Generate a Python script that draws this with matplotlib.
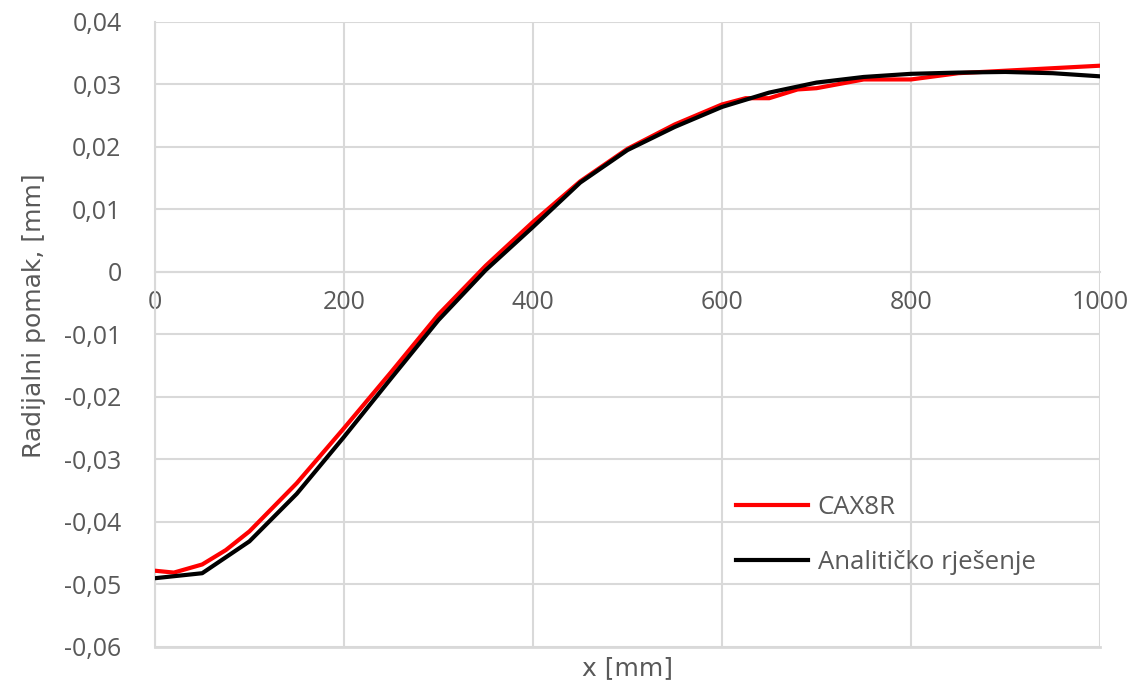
import matplotlib
matplotlib.use("Agg")
import matplotlib.pyplot as plt
from matplotlib.ticker import FuncFormatter, MultipleLocator

# CAX8R (numericko rjesenje)
x_cax = [0, 20, 50, 75, 100, 150, 200, 250, 300, 350, 400, 450, 500, 550,
         600, 625, 650, 680, 700, 750, 800, 850, 900, 950, 1000]
y_cax = [-0.0478, -0.0481, -0.0468, -0.0445, -0.0415, -0.0338, -0.0250,
         -0.0160, -0.0068, 0.0010, 0.0080, 0.0145, 0.0197, 0.0236, 0.0268,
         0.0278, 0.0278, 0.0292, 0.0294, 0.0308, 0.0308, 0.0318, 0.0322,
         0.0326, 0.0330]

# Analiticko rjesenje
x_an = [0, 50, 100, 150, 200, 250, 300, 350, 400, 450, 500, 550, 600, 650,
        700, 750, 800, 850, 900, 950, 1000]
y_an = [-0.0490, -0.0482, -0.0431, -0.0355, -0.0264, -0.0170, -0.0077,
        0.0003, 0.0072, 0.0143, 0.0195, 0.0232, 0.0264, 0.0287, 0.0303,
        0.0312, 0.0317, 0.0319, 0.0320, 0.0318, 0.0313]

grid_col = "#d9d9d9"
txt_col = "#595959"

fig = plt.figure(figsize=(11.36, 6.86), dpi=100)
ax = fig.add_axes([0.1364, 0.0569, 0.8319, 0.9111])

ax.plot(x_cax, y_cax, color="#ff0000", lw=3, label="CAX8R", zorder=3)
ax.plot(x_an, y_an, color="black", lw=3, label="Analitičko rješenje", zorder=3)

ax.set_xlim(0, 1000)
ax.set_ylim(-0.06, 0.04)
ax.xaxis.set_major_locator(MultipleLocator(200))
ax.yaxis.set_major_locator(MultipleLocator(0.01))

def fmt(v, pos):
    if abs(v) < 1e-9:
        return "0"
    return f"{v:.2f}".replace(".", ",")

ax.yaxis.set_major_formatter(FuncFormatter(fmt))
ax.xaxis.set_major_formatter(FuncFormatter(lambda v, p: f"{v:.0f}"))

ax.grid(True, color=grid_col, lw=1.5, zorder=0)
for s in ["top", "right"]:
    ax.spines[s].set_visible(False)
ax.spines["left"].set_color(grid_col)
ax.spines["left"].set_linewidth(1.5)
ax.spines["bottom"].set_position(("data", 0))
ax.spines["bottom"].set_color(grid_col)
ax.spines["bottom"].set_linewidth(1.5)
ax.axhline(-0.06, color=grid_col, lw=2, zorder=1, clip_on=False)

ax.tick_params(axis="both", length=0, labelsize=18, labelcolor=txt_col)
ax.tick_params(axis="y", pad=24)
ax.tick_params(axis="x", pad=13)
for lab in ax.get_xticklabels() + ax.get_yticklabels():
    lab.set_fontfamily("Open Sans")

ax.set_ylabel("Radijalni pomak, [mm]", fontsize=18, color=txt_col,
              family="Liberation Sans Narrow")
ax.yaxis.set_label_coords(-0.115, 0.53)
ax.text(0.5, -0.034, "x [mm]", transform=ax.transAxes, ha="center",
        va="center", fontsize=18, color=txt_col, family="Liberation Sans Narrow")

leg = ax.legend(loc="upper left", bbox_to_anchor=(0.59, 0.28), frameon=False,
                prop={"family": "Open Sans", "size": 18.5},
                handlelength=2.8, labelspacing=1.15, handletextpad=0.4)
for t in leg.get_texts():
    t.set_color(txt_col)

fig.savefig("out.png", dpi=100)
